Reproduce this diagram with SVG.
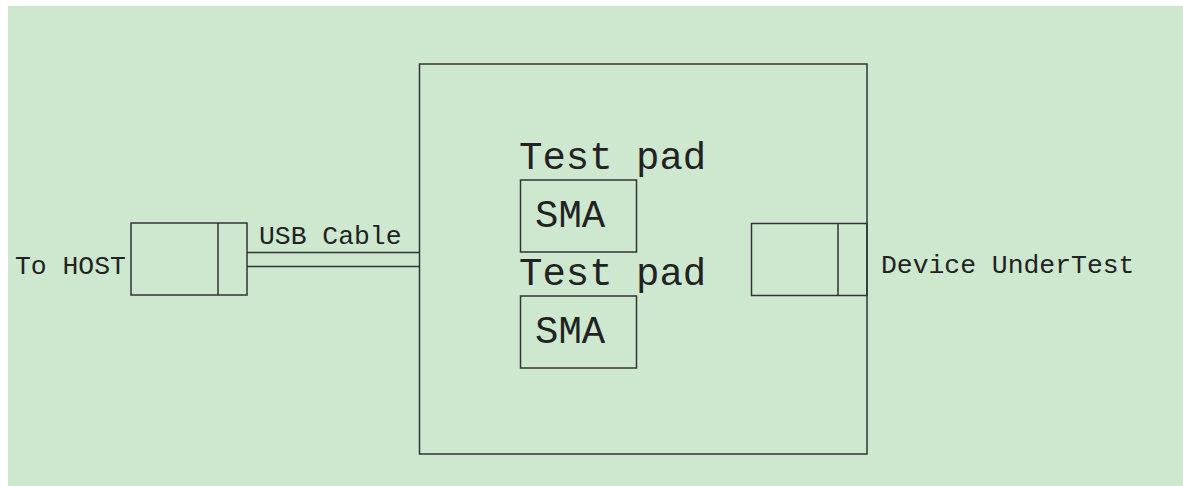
<svg xmlns="http://www.w3.org/2000/svg" width="1183" height="486" viewBox="0 0 1183 486">
<style>
.box{fill:none;stroke:#333;stroke-width:1.5}
.ln{stroke:#333;stroke-width:1.5;fill:none}
.sm{font-family:"Liberation Mono","Courier New",monospace;font-size:26.4px;fill:#222}
.lg{font-family:"Liberation Mono","Courier New",monospace;font-size:39px;fill:#222}
</style>
<rect x="8" y="6" width="1175" height="480" fill="#cde8cf"/>
<g id="board">
<rect class="box" x="419.5" y="64" width="447.5" height="390"/>
</g>
<g id="host-connector">
<rect class="box" x="131" y="223" width="116" height="72"/>
<line class="ln" x1="218" y1="223" x2="218" y2="295"/>
<text class="sm" x="15" y="274">To HOST</text>
</g>
<g id="dut-connector">
<rect class="box" x="751.5" y="223.5" width="115.5" height="72"/>
<line class="ln" x1="838" y1="223.5" x2="838" y2="295.5"/>
<text class="sm" x="881" y="273">Device UnderTest</text>
</g>
<g id="sma1">
<text class="lg" x="519" y="169">Test pad</text>
<rect class="box" x="520.5" y="180" width="116" height="72"/>
<text class="lg" x="535" y="227">SMA</text>
</g>
<g id="sma2">
<text class="lg" x="519" y="285">Test pad</text>
<rect class="box" x="520.5" y="296" width="116" height="72"/>
<text class="lg" x="535" y="343">SMA</text>
</g>
<g id="connectors">
<line class="ln" x1="247" y1="252.5" x2="419.5" y2="252.5"/>
<line class="ln" x1="247" y1="266.5" x2="419.5" y2="266.5"/>
<text class="sm" x="259" y="244">USB Cable</text>
</g>
</svg>
